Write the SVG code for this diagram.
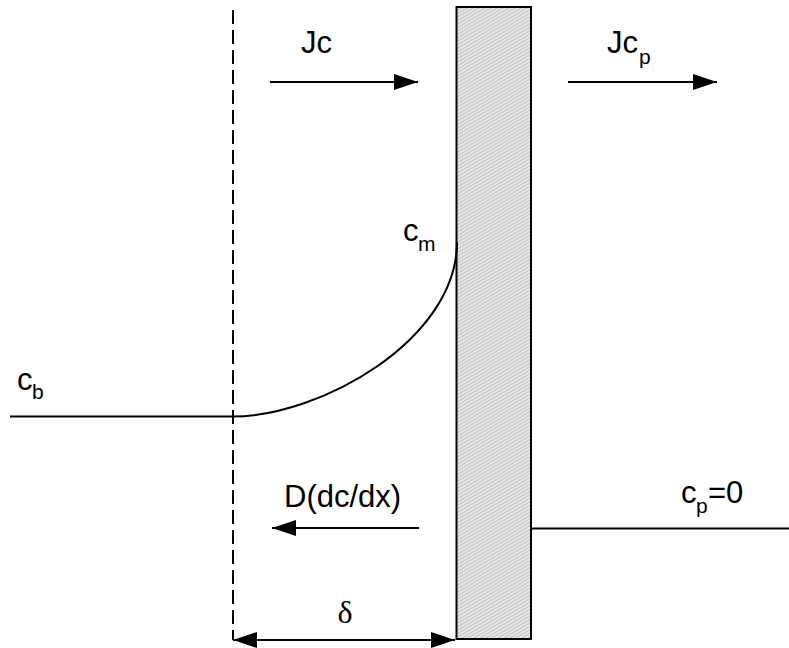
<svg xmlns="http://www.w3.org/2000/svg" width="789" height="648" viewBox="0 0 789 648">
<style>
.ln{stroke:#000;stroke-width:2;fill:none}
.t{font-family:"Liberation Sans",Arial,sans-serif;font-size:31px;fill:#000}
.s{font-size:21px}
.g{font-family:"Liberation Serif","Times New Roman",serif;font-size:32px;fill:#000}
</style>
<defs>
<pattern id="hatch" width="3" height="3" patternUnits="userSpaceOnUse" patternTransform="rotate(60)">
<rect width="3" height="3" fill="#e6e6e6"/>
<line x1="0" y1="0" x2="0" y2="3" stroke="#a0a0a0" stroke-width="1"/>
</pattern>
<marker id="ah" markerWidth="24" markerHeight="16" refX="24" refY="8" orient="auto-start-reverse" markerUnits="userSpaceOnUse">
<path d="M0,0 L24,8 L0,16 Z" fill="#000"/>
</marker>
</defs>
<g id="membrane">
<rect x="456.5" y="7" width="74.5" height="632" fill="url(#hatch)" stroke="#000" stroke-width="2"/>
</g>
<g id="boundary-layer">
<line x1="233" y1="10" x2="233" y2="640" stroke="#000" stroke-width="2" stroke-dasharray="14 6"/>
</g>
<g id="connectors">
<line class="ln" x1="270" y1="82" x2="418" y2="82" marker-end="url(#ah)"/>
<line class="ln" x1="568" y1="82" x2="717" y2="82" marker-end="url(#ah)"/>
<line class="ln" x1="419" y1="528" x2="272" y2="528" marker-end="url(#ah)"/>
<line class="ln" x1="233" y1="640" x2="455" y2="640" marker-start="url(#ah)" marker-end="url(#ah)"/>
<line class="ln" x1="10" y1="416.5" x2="233" y2="416.5"/>
<line class="ln" x1="531" y1="528.5" x2="789" y2="528.5"/>
<path class="ln" d="M233,416.5 C320,416.5 457,340 457,242"/>
</g>
<g id="labels">
<text class="t" x="301" y="53">Jc</text>
<text class="t" x="607" y="53">Jc<tspan class="s" x="639" y="64">p</tspan></text>
<text class="t" x="403" y="241">c<tspan class="s" x="418" y="251">m</tspan></text>
<text class="t" x="17" y="390">c<tspan class="s" x="32" y="399">b</tspan></text>
<text class="t" x="284" y="507">D(dc/dx)</text>
<text class="t" x="681" y="503">c<tspan class="s" x="696" y="513">p</tspan><tspan x="708" y="503">=0</tspan></text>
<text class="g" x="345" y="623" text-anchor="middle">δ</text>
</g>
</svg>
